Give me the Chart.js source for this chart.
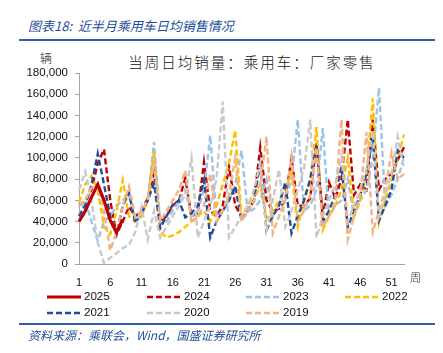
<!DOCTYPE html>
<html>
<head>
<meta charset="utf-8">
<script src="https://cdn.jsdelivr.net/npm/chart.js@4.4.1/dist/chart.umd.min.js"></script>
<style>
  body { margin: 0; width: 443px; height: 353px; background: #fff; position: relative; overflow: hidden;
         font-family: "Liberation Sans", Arial, sans-serif; }
  .abs { position: absolute; white-space: nowrap; }
  #head { left: 28px; top: 16px; font: italic 13px "Noto Sans CJK SC"; color: #1f4e9a; }
  .rule { position: absolute; left: 19px; width: 416px; height: 2px; background: #2e5fa8; }
  #title { left: 0; width: 504px; text-align: center; top: 51px; font: 300 14.5px "Noto Sans CJK SC"; color: #111; letter-spacing: 2px; }
  #unit { left: 40px; top: 49px; font: 300 12px "Noto Sans CJK SC"; color: #111; }
  #wk { left: 410px; top: 269px; font: 300 11px "Noto Sans CJK SC"; color: #222; }
  #src { left: 28px; top: 326px; font: italic 12px "Noto Sans CJK SC"; color: #1f4e9a; }
  #wrap { position: absolute; left: 0; top: 45px; width: 443px; height: 245px; }
  .leg { position: absolute; font-size: 11.5px; color: #111; }
  .leg svg { position: absolute; left: -37px; top: 4px; }
</style>
</head>
<body>
<div class="abs" id="head">图表18:&nbsp; 近半月乘用车日均销售情况</div>
<div class="rule" style="top:39px"></div>
<div class="abs" id="title">当周日均销量：乘用车：厂家零售</div>
<div class="abs" id="unit">辆</div>
<div id="wrap"><canvas id="c"></canvas></div>
<div class="abs" id="wk">周</div>
<div id="legend"></div>
<div class="rule" style="top:323px"></div>
<div class="abs" id="src">资料来源：乘联会，Wind，国盛证券研究所</div>
<script>
// weeks 1..53
var weeks = [];
for (var i = 1; i <= 53; i++) weeks.push(i);

var years = ['2025', '2024', '2023', '2022', '2021', '2020', '2019'];

var y2025 = [40000, 50000, 63000, 75000, 60000, 41000, 30000, 42000];
var y2024 = [55000, 60000, 70000, 95000, 108000, 60000, 28000, 40000, 54000, 45000,
             50000, 62000, 85000, 40000, 45000, 55000, 60000, 81000, 45000, 48000,
             96000, 50000, 45000, 55000, 92000, 55000, 45000, 50000, 60000, 110000,
             60000, 50000, 52000, 60000, 100000, 55000, 55000, 62000, 115000, 45000,
             77000, 62000, 80000, 136000, 65000, 75000, 70000, 136000, 70000, 80000,
             85000, 98000, 110000];
var y2023 = [45000, 60000, 40000, 22000, 40000, 45000, 55000, 60000, 65000, 40000,
             45000, 60000, 115000, 38000, 40000, 50000, 60000, 70000, 45000, 50000,
             70000, 121000, 45000, 50000, 60000, 75000, 107000, 48000, 52000, 60000,
             80000, 45000, 55000, 60000, 80000, 136000, 50000, 55000, 70000, 128000,
             45000, 55000, 60000, 80000, 45000, 60000, 70000, 100000, 166000, 55000,
             65000, 80000, 101000];
var y2022 = [58000, 75000, 83000, 70000, 35000, 28000, 50000, 79000, 45000, 40000,
             45000, 60000, 107000, 30000, 25000, 27000, 30000, 35000, 40000, 45000,
             50000, 40000, 55000, 75000, 95000, 126000, 45000, 55000, 65000, 75000,
             43000, 50000, 60000, 70000, 86000, 35000, 60000, 80000, 129000, 32000,
             45000, 55000, 70000, 100000, 45000, 60000, 85000, 156000, 39000, 60000,
             80000, 100000, 122000];
var y2021 = [45000, 55000, 75000, 104000, 75000, 45000, 28000, 55000, 67000, 39000,
             48000, 60000, 76000, 34000, 45000, 56000, 60000, 44000, 48000, 55000,
             79000, 25000, 40000, 50000, 60000, 73000, 41000, 50000, 60000, 95000,
             32000, 45000, 55000, 77000, 29000, 45000, 60000, 80000, 112000, 40000,
             50000, 65000, 92000, 35000, 50000, 65000, 85000, 120000, 41000, 55000,
             70000, 107000, 100000];
var y2020 = [70000, 87000, 60000, 20000, 1000, 6000, 10000, 15000, 18000, 30000,
             54000, 23000, 50000, 25000, 35000, 45000, 55000, 65000, 100000, 25000,
             40000, 55000, 80000, 153000, 25000, 35000, 45000, 55000, 70000, 95000,
             32000, 60000, 89000, 35000, 50000, 70000, 90000, 136000, 25000, 45000,
             60000, 75000, 101000, 40000, 55000, 70000, 90000, 125000, 45000, 65000,
             85000, 120000, 90000];
var y2019 = [55000, 60000, 72000, 75000, 50000, 13000, 30000, 55000, 73000, 44000,
             50000, 60000, 95000, 40000, 50000, 60000, 70000, 88000, 39000, 45000,
             55000, 85000, 40000, 50000, 65000, 100000, 40000, 50000, 60000, 75000,
             120000, 29000, 45000, 60000, 100000, 40000, 50000, 65000, 110000, 35000,
             45000, 60000, 136000, 23000, 45000, 65000, 124000, 30000, 50000, 70000,
             105000, 80000, 85000];

var yTicks = [0, 20000, 40000, 60000, 80000, 100000, 120000, 140000, 160000, 180000];
var xShown = [1, 6, 11, 16, 21, 26, 31, 36, 41, 46, 51];

var series = [y2025, y2024, y2023, y2022, y2021, y2020, y2019];
var colors = ['#c00000', '#c00000', '#9dc3e6', '#ffc000', '#1f4e9a', '#c9c9c9', '#f4b183'];
var drawOrder = [0, 6, 5, 4, 3, 2, 1];

var datasets = series.map(function (vals, i) {
    return {
        label: years[i],
        data: vals,
        borderColor: colors[i],
        borderWidth: i === 0 ? 3.2 : 2.4,
        borderDash: i === 0 ? [] : [6, 3],
        pointRadius: 0,
        tension: 0,
        fill: false,
        order: drawOrder[i]
    };
});

new Chart(document.getElementById('c'), {
    type: 'line',
    data: { labels: weeks, datasets: datasets },
    options: {
        responsive: true,
        maintainAspectRatio: false,
        animation: false,
        layout: { padding: { top: 28, right: 39, bottom: 0, left: 0 } },
        plugins: { legend: { display: false }, tooltip: { enabled: false } },
        scales: {
            x: {
                offset: false,
                grid: { display: false },
                border: { color: '#a6a6a6', width: 1 },
                ticks: {
                    autoSkip: false, maxRotation: 0, color: '#111', padding: 4,
                    font: { family: 'Liberation Sans', size: 11 },
                    callback: function (v, idx) {
                        var w = weeks[idx];
                        return xShown.indexOf(w) >= 0 ? String(w) : '';
                    }
                },
                afterFit: function (s) { s.height = 26; }
            },
            y: {
                min: 0, max: 180000,
                afterBuildTicks: function (s) { s.ticks = yTicks.map(function (v) { return { value: v }; }); },
                grid: { drawOnChartArea: false, tickLength: 4, color: '#a6a6a6' },
                border: { color: '#a6a6a6', width: 1 },
                ticks: { color: '#111', padding: 7, font: { family: 'Liberation Sans', size: 11.5 } },
                afterFit: function (s) { s.width = 79; }
            }
        }
    }
});

// legend
var legPos = [[84, 290], [184, 290], [283, 290], [382, 290], [84, 306], [184, 306], [283, 306]];
var legend = document.getElementById('legend');
years.forEach(function (y, i) {
    var d = document.createElement('div');
    d.className = 'leg';
    d.style.left = legPos[i][0] + 'px';
    d.style.top = legPos[i][1] + 'px';
    var dash = i === 0 ? '' : ' stroke-dasharray="6 3"';
    d.innerHTML = '<svg width="34" height="6"><line x1="0" y1="3" x2="34" y2="3" stroke="' + colors[i] +
        '" stroke-width="' + (i === 0 ? 3.2 : 2.4) + '"' + dash + '/></svg>' + y;
    legend.appendChild(d);
});
</script>
</body>
</html>
